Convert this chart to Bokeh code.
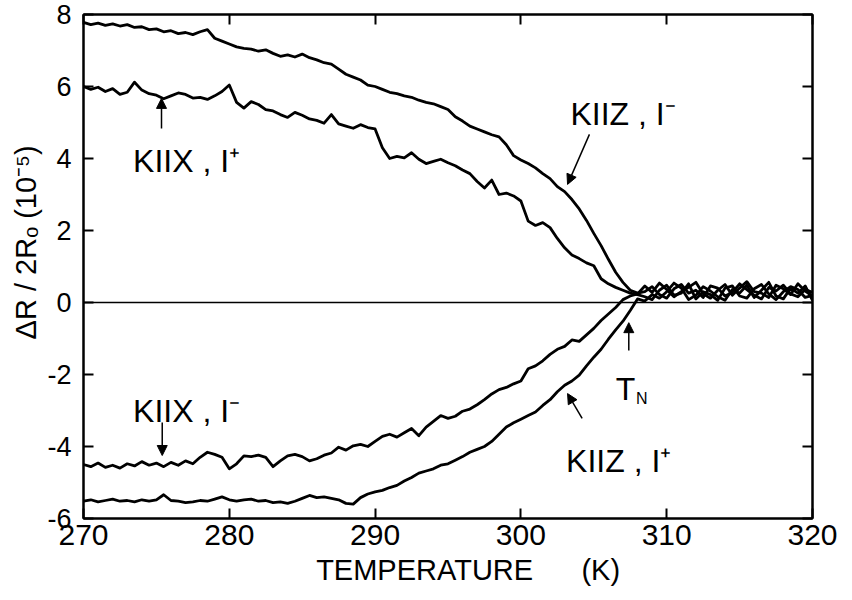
import numpy as np
from bokeh.plotting import figure
from bokeh.models import (Range1d, FixedTicker, LinearAxis, Span, Arrow, NormalHead,
                          CustomJSTickFormatter, ColumnDataSource)
from bokeh.core.properties import value
from bokeh.embed import file_html
from bokeh.resources import INLINE

# ---------------- data ----------------
temperature = np.arange(270.0, 320.01, 0.5)

kiiz_iminus = [7.78, 7.72, 7.76, 7.70, 7.74, 7.68, 7.72, 7.64, 7.66, 7.58,
               7.60, 7.52, 7.55, 7.47, 7.50, 7.44, 7.52, 7.58, 7.34, 7.26,
               7.18, 7.10, 7.06, 7.04, 6.98, 7.02, 6.92, 6.84, 6.88, 6.82,
               6.90, 6.80, 6.74, 6.66, 6.62, 6.48, 6.34, 6.26, 6.18, 6.04,
               6.00, 5.92, 5.84, 5.80, 5.74, 5.70, 5.62, 5.56, 5.52, 5.44,
               5.36, 5.16, 5.04, 4.90, 4.82, 4.74, 4.66, 4.60, 4.38, 4.08,
               3.96, 3.86, 3.74, 3.58, 3.44, 3.22, 3.08, 2.86, 2.60, 2.28,
               1.92, 1.58, 1.20, 0.84, 0.56, 0.34, 0.26, 0.30, 0.44, 0.22,
               0.12, 0.38, 0.50, 0.26, 0.34, 0.14, 0.46, 0.40, 0.18, 0.28,
               0.52, 0.36, 0.20, 0.10, 0.42, 0.32, 0.48, 0.24, 0.16, 0.36,
               0.28]

kiix_iplus = [6.00, 5.92, 5.98, 5.86, 5.94, 5.78, 5.84, 6.12, 5.90, 5.80,
              5.76, 5.66, 5.74, 5.82, 5.78, 5.68, 5.70, 5.64, 5.74, 5.86,
              6.04, 5.56, 5.40, 5.58, 5.50, 5.36, 5.32, 5.22, 5.14, 5.28,
              5.20, 5.10, 5.06, 4.98, 5.22, 4.96, 4.90, 4.84, 4.94, 4.86,
              4.82, 4.30, 4.00, 4.06, 4.02, 4.16, 3.98, 3.86, 3.92, 3.98,
              3.88, 3.80, 3.68, 3.58, 3.36, 3.18, 3.40, 3.00, 3.04, 2.96,
              2.82, 2.26, 2.14, 2.22, 2.08, 1.78, 1.52, 1.32, 1.22, 1.10,
              1.02, 0.66, 0.52, 0.42, 0.34, 0.26, 0.22, 0.16, 0.08, 0.34,
              0.48, 0.20, 0.26, 0.52, 0.10, 0.30, 0.22, 0.06, 0.40, 0.46,
              0.18, 0.12, 0.38, 0.50, 0.24, 0.08, 0.30, 0.44, 0.36, 0.14,
              0.20]

kiix_iminus = [-4.50, -4.56, -4.46, -4.58, -4.52, -4.60, -4.48, -4.54, -4.42, -4.52,
               -4.46, -4.56, -4.44, -4.52, -4.40, -4.48, -4.30, -4.16, -4.22, -4.30,
               -4.62, -4.48, -4.26, -4.28, -4.24, -4.30, -4.56, -4.40, -4.26, -4.22,
               -4.28, -4.40, -4.34, -4.24, -4.18, -4.02, -4.10, -3.98, -3.94, -4.00,
               -3.86, -3.72, -3.66, -3.74, -3.62, -3.50, -3.70, -3.46, -3.30, -3.14,
               -3.22, -3.16, -3.02, -2.96, -2.84, -2.70, -2.54, -2.42, -2.36, -2.26,
               -2.18, -1.84, -1.76, -1.62, -1.44, -1.30, -1.22, -1.04, -1.08, -0.90,
               -0.72, -0.50, -0.32, -0.14, 0.08, 0.18, 0.24, 0.46, 0.28, 0.54,
               0.36, 0.16, 0.30, 0.42, 0.56, 0.24, 0.12, 0.34, 0.50, 0.20,
               0.40, 0.58, 0.30, 0.26, 0.14, 0.48, 0.38, 0.22, 0.52, 0.32,
               0.18]

kiiz_iplus = [-5.52, -5.48, -5.54, -5.50, -5.46, -5.52, -5.50, -5.54, -5.48, -5.52,
              -5.48, -5.34, -5.50, -5.52, -5.56, -5.54, -5.50, -5.52, -5.46, -5.40,
              -5.48, -5.52, -5.48, -5.46, -5.52, -5.50, -5.56, -5.54, -5.58, -5.52,
              -5.44, -5.36, -5.42, -5.40, -5.44, -5.48, -5.58, -5.60, -5.42, -5.32,
              -5.26, -5.22, -5.14, -5.08, -4.96, -4.86, -4.74, -4.68, -4.62, -4.52,
              -4.48, -4.38, -4.28, -4.16, -4.08, -4.00, -3.86, -3.66, -3.46, -3.34,
              -3.24, -3.14, -3.04, -2.86, -2.70, -2.48, -2.30, -2.18, -2.02, -1.76,
              -1.52, -1.30, -1.02, -0.76, -0.52, -0.22, 0.10, 0.04, 0.22, 0.12,
              0.30, 0.54, 0.40, 0.08, 0.20, 0.44, 0.32, 0.16, 0.06, 0.36,
              0.26, 0.48, 0.14, 0.34, 0.56, 0.18, 0.10, 0.40, 0.26, 0.46,
              0.06]

x_ticks = [270, 280, 290, 300, 310, 320]
y_ticks = [-6, -4, -2, 0, 2, 4, 6, 8]
y_tick_labels = {-6: "-6", -4: "-4", -2: "-2", 0: "0", 2: "2", 4: "4", 6: "6", 8: "8"}

label_text = ["KIIX , I\u207a", "KIIZ , I\u207b", "KIIX , I\u207b", "KIIZ , I\u207a", "T"]
label_x = [273.4, 303.4, 273.4, 303.1, 306.5]
label_y = [3.94, 5.25, -3.0, -4.39, -2.39]
sub_text = ["N"]
sub_x = [307.9]
sub_y = [-2.67]

arrow_x0 = [275.35, 304.7, 275.4, 304.2, 307.4]
arrow_y0 = [4.83, 4.67, -3.33, -3.22, -1.33]
arrow_x1 = [275.35, 303.2, 275.4, 303.2, 307.4]
arrow_y1 = [5.67, 3.28, -4.25, -2.53, -0.56]

FONT = "Liberation Sans"

# ---------------- figure ----------------
p = figure(width=852, height=600, output_backend="svg", toolbar_location=None,
           x_range=Range1d(270, 320), y_range=Range1d(-6, 8),
           min_border_left=83, min_border_right=40, min_border_top=14, min_border_bottom=82)
p.grid.visible = False
p.background_fill_color = "white"
p.border_fill_color = "white"
p.outline_line_color = "black"
p.outline_line_width = 2

xt = FixedTicker(ticks=x_ticks)
yt = FixedTicker(ticks=y_ticks)

def style_axis(ax, ticker):
    ax.ticker = ticker
    ax.major_tick_in = 10
    ax.major_tick_out = 0
    ax.minor_tick_line_color = None
    ax.axis_line_width = 2
    ax.major_tick_line_width = 2
    ax.axis_line_color = "black"
    ax.major_tick_line_color = "black"

xa = p.xaxis[0]
style_axis(xa, xt)
xa.major_label_text_font = FONT
xa.major_label_text_font_size = "30px"
xa.major_label_text_color = "black"
xa.major_label_standoff = 6
xa.axis_label = "\u00a0" * 5 + "TEMPERATURE" + "\u00a0" * 6 + "(K)"
xa.axis_label_text_font = FONT
xa.axis_label_text_font_size = "29px"
xa.axis_label_text_font_style = "normal"
xa.axis_label_text_color = "black"
xa.axis_label_standoff = 6

ya = p.yaxis[0]
style_axis(ya, yt)
ya.major_label_overrides = y_tick_labels
ya.major_label_text_font = FONT
ya.major_label_text_font_size = "27px"
ya.major_label_text_color = "black"
ya.major_label_standoff = 12
ya.axis_label = "\u00a0" * 6 + "\u0394R / 2R\u2092 (10\u207b\u2075)"
ya.axis_label_text_font = FONT
ya.axis_label_text_font_size = "29px"
ya.axis_label_text_font_style = "normal"
ya.axis_label_text_color = "black"
ya.axis_label_standoff = 2

blank = CustomJSTickFormatter(code="return ''")
top = LinearAxis(formatter=blank, major_label_text_font_size="1px")
style_axis(top, xt)
right = LinearAxis(formatter=blank, major_label_text_font_size="1px")
style_axis(right, yt)
p.add_layout(top, "above")
p.add_layout(right, "right")

p.add_layout(Span(location=0, dimension="width", line_color="black", line_width=1.5))

for series in (kiiz_iminus, kiix_iplus, kiix_iminus, kiiz_iplus):
    p.line(temperature, series, line_color="black", line_width=2.8, line_join="round")

p.text(x=label_x, y=label_y, text=label_text, text_font=value(FONT),
       text_font_size="32px", text_align="left", text_baseline="alphabetic", text_color="black")
p.text(x=sub_x, y=sub_y, text=sub_text, text_font=value(FONT),
       text_font_size="16px", text_align="left", text_baseline="alphabetic", text_color="black")

asrc = ColumnDataSource(dict(x0=arrow_x0, y0=arrow_y0, x1=arrow_x1, y1=arrow_y1))
p.add_layout(Arrow(end=NormalHead(size=10, fill_color="black", line_color="black"),
                   x_start="x0", y_start="y0", x_end="x1", y_end="y1",
                   line_width=1.5, line_color="black", source=asrc))

open("out.html", "w").write(file_html(p, INLINE))
